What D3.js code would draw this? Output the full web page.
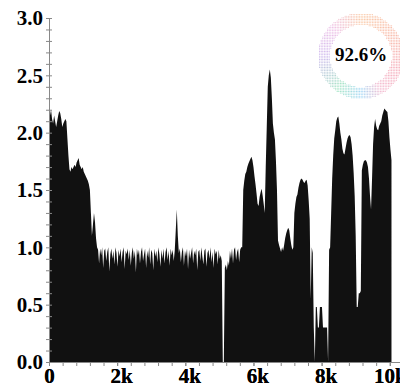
<!DOCTYPE html>
<html>
<head>
<meta charset="utf-8">
<script src="https://cdn.jsdelivr.net/npm/d3@7"></script>
<style>
  html, body { margin: 0; padding: 0; background: #fff; }
  figure { margin: 0; }
  svg { display: block; }
</style>
</head>
<body>
<figure id="chart"></figure>
<script>
const step = 30;
const firstHump = [2.05, 2.15, 2.2, 2.12, 2.08, 2.15, 2.1, 2.05, 2.1, 2.15,
  2.19, 2.17, 2.12, 2.05, 2.08, 2.1, 2.12, 2.1, 1.95, 1.8,
  1.68, 1.66, 1.7, 1.68, 1.7, 1.72, 1.7, 1.74, 1.76, 1.78,
  1.72, 1.7, 1.68, 1.7, 1.66, 1.64, 1.62, 1.6, 1.58, 1.55,
  1.5, 1.3, 1.1, 1.2, 1.3, 1.22, 1.08, 1.0];
const noiseA = [0.98, 0.86, 0.99, 0.93, 1.0, 0.82, 0.97, 0.99, 0.88, 0.96,
  1.0, 0.79, 0.94, 0.99, 0.9, 0.97, 0.85, 1.0, 0.95, 0.83,
  0.98, 0.92, 0.99, 0.87, 0.96, 1.0, 0.81, 0.97, 0.94, 0.99,
  0.89, 0.98, 0.84, 0.95, 1.0, 0.9, 0.97, 0.78, 0.99, 0.93,
  0.98, 0.86, 0.96, 1.0, 0.88, 0.94, 0.99, 0.82, 0.97, 0.91,
  1.0, 0.85, 0.98, 0.95, 0.8, 0.99, 0.92, 0.97, 0.87, 1.0,
  0.94, 0.83, 0.98, 0.9, 0.99, 0.86, 0.96, 1.0, 0.89, 0.97,
  0.84, 0.99, 0.93, 0.98, 0.88];
const spike = [0.97, 1.15, 1.33, 1.1, 0.95];
const noiseB = [0.99, 0.87, 0.96, 1.0, 0.84, 0.97, 0.92, 0.99, 0.81, 0.98,
  0.9, 0.95, 1.0, 0.86, 0.97, 0.93, 0.99, 0.8, 0.96, 0.98,
  0.88, 1.0, 0.92, 0.85, 0.97, 0.99, 0.83, 0.95, 0.98, 0.9,
  1.0, 0.87, 0.96, 0.82, 0.99, 0.94, 0.97, 0.85, 0.98, 0.9, 0.93, 0.88];
const gap = [0, 0];
const noiseC = [0.82, 0.85, 0.8, 0.88, 0.84, 0.97, 0.9, 0.99, 0.86, 0.98,
  1.0, 0.89, 0.96, 0.99, 0.87, 0.98, 1.0];
const humpsABC = [1.0, 1.5, 1.58, 1.64, 1.66, 1.7, 1.73, 1.75, 1.77, 1.79,
  1.76, 1.7, 1.62, 1.55, 1.47, 1.38, 1.36, 1.44, 1.48, 1.51,
  1.45, 1.38, 1.3, 1.7, 2.05, 2.4, 2.5, 2.55, 2.48, 2.3,
  2.08, 2.0, 1.94, 1.75, 1.5, 1.06];
const humpD = [1.02, 0.99, 0.96, 1.0, 0.97, 1.02, 1.08, 1.12, 1.15, 1.17,
  1.15, 1.08, 1.02, 0.98, 1.0, 1.3, 1.38, 1.44, 1.46, 1.52,
  1.56, 1.59, 1.6, 1.59, 1.57, 1.56, 1.58, 1.59, 1.54, 1.41,
  1.25, 0.55, 1.0, 0.95];
const lowBars = [0.3, 0, 0.48, 0.48, 0.3, 0.3, 0.48, 0.48, 0.48, 0.3,
  0.3, 0.3, 0.3, 0.3, 0];
const humpE = [0.98, 1.0, 1.3, 1.6, 1.8, 1.95, 2.02, 2.1, 2.13, 2.14,
  2.08, 2.0, 1.94, 1.86, 1.82, 1.81, 1.86, 1.91, 1.95, 1.97,
  1.98, 1.96, 1.9, 1.8, 1.65, 1.45, 1.1];
const dipEF = [0.48, 0.48, 0.6, 0.6, 0.62];
const humpsFG = [1.67, 1.72, 1.75, 1.76, 1.76, 1.74, 1.7, 1.6, 1.45, 1.33,
  1.6, 1.9, 2.05, 2.12, 2.06, 2.03, 2.02, 2.06, 2.08, 2.1,
  2.15, 2.18, 2.21, 2.2, 2.19, 2.18, 2.1, 1.96, 1.85, 1.76];

const series = [].concat(firstHump, noiseA, spike, noiseB, gap, noiseC,
  humpsABC, humpD, lowBars, humpE, dipEF, humpsFG);

const yTicks = [0, 0.5, 1, 1.5, 2, 2.5, 3];
const xTicks = [0, 2000, 4000, 6000, 8000, 10000];
const xTickLabels = ["0", "2k", "4k", "6k", "8k", "10k"];
const ratioLabel = "92.6%";

const width = 400;
const height = 388;
const font = '"Liberation Serif", "Times New Roman", serif';

const svg = d3.select("figure#chart")
  .append("svg")
  .attr("width", width)
  .attr("height", height);

const x = d3.scaleLinear().domain([0, 10300]).range([49, 400]);
const y = d3.scaleLinear().domain([0, 3]).range([362, 18]);

// the filled area
const area = d3.area()
  .x((d, i) => x(i * step))
  .y0(y(0))
  .y1(d => y(d));

svg.append("path")
  .datum(series)
  .attr("d", area)
  .attr("fill", "#111");

// y axis: minor ticks every 0.1, labels every 0.5
const yAxis = svg.append("g")
  .attr("transform", "translate(" + x(0) + ",0)")
  .call(d3.axisLeft(y)
    .tickValues(d3.range(0, 31).map(k => k / 10))
    .tickSize(3)
    .tickSizeOuter(0)
    .tickPadding(3)
    .tickFormat(d => yTicks.includes(d) ? d3.format(".1f")(d) : ""));

// x axis: minor ticks every 400
const xAxis = svg.append("g")
  .attr("transform", "translate(0," + y(0) + ")")
  .call(d3.axisBottom(x)
    .tickValues(d3.range(0, 10300, 400).concat(xTicks))
    .tickSize(4)
    .tickSizeOuter(0)
    .tickPadding(2)
    .tickFormat(d => {
      const k = xTicks.indexOf(d);
      return k >= 0 ? xTickLabels[k] : "";
    }));

yAxis.selectAll(".tick line").attr("x1", 3);
[yAxis, xAxis].forEach(g => {
  g.attr("font-family", font).attr("font-size", 21).attr("font-weight", "bold");
  g.select(".domain").attr("stroke", "#888");
  g.selectAll(".tick line").attr("stroke", "#888");
  g.selectAll(".tick text").attr("fill", "#000");
});
// the k labels sit a little right of their ticks in the reference
xAxis.selectAll(".tick text").attr("dx", d => (d > 0 && d < 10000) ? 4 : 0);

// dotted rainbow ring in the top right corner
const ring = { cx: 361, cy: 56, inner: 31, outer: 43 };
const ringStops = [[0, "#f5a060"], [60, "#f28266"], [110, "#ee6f86"], [150, "#ea86ac"],
  [180, "#5ab8ef"], [215, "#5ccf95"], [270, "#a982e0"], [315, "#e08fd2"], [360, "#f5a060"]];

function ringColor(deg) {
  for (let k = 1; k < ringStops.length; k++) {
    if (deg <= ringStops[k][0]) {
      const a = ringStops[k - 1], b = ringStops[k];
      return d3.interpolateRgb(a[1], b[1])((deg - a[0]) / (b[0] - a[0]));
    }
  }
  return ringStops[0][1];
}

const dots = [];
for (let gx = -ring.outer; gx <= ring.outer; gx += 1.6) {
  for (let gy = -ring.outer; gy <= ring.outer; gy += 1.6) {
    const r = Math.hypot(gx, gy);
    if (r >= ring.inner && r <= ring.outer) {
      let deg = Math.atan2(gx, -gy) * 180 / Math.PI;
      if (deg < 0) deg += 360;
      dots.push({ gx, gy, deg });
    }
  }
}

const ringG = svg.append("g")
  .attr("transform", "translate(" + ring.cx + "," + ring.cy + ")");

ringG.selectAll("circle")
  .data(dots)
  .enter()
  .append("circle")
  .attr("cx", d => d.gx)
  .attr("cy", d => d.gy)
  .attr("r", 0.55)
  .attr("fill", d => ringColor(d.deg))
  .attr("fill-opacity", 0.6);

ringG.append("text")
  .text(ratioLabel)
  .attr("y", 1)
  .attr("text-anchor", "middle")
  .attr("dominant-baseline", "middle")
  .attr("font-family", font)
  .attr("font-weight", "bold")
  .attr("font-size", 19)
  .attr("fill", "#000");
</script>
</body>
</html>
